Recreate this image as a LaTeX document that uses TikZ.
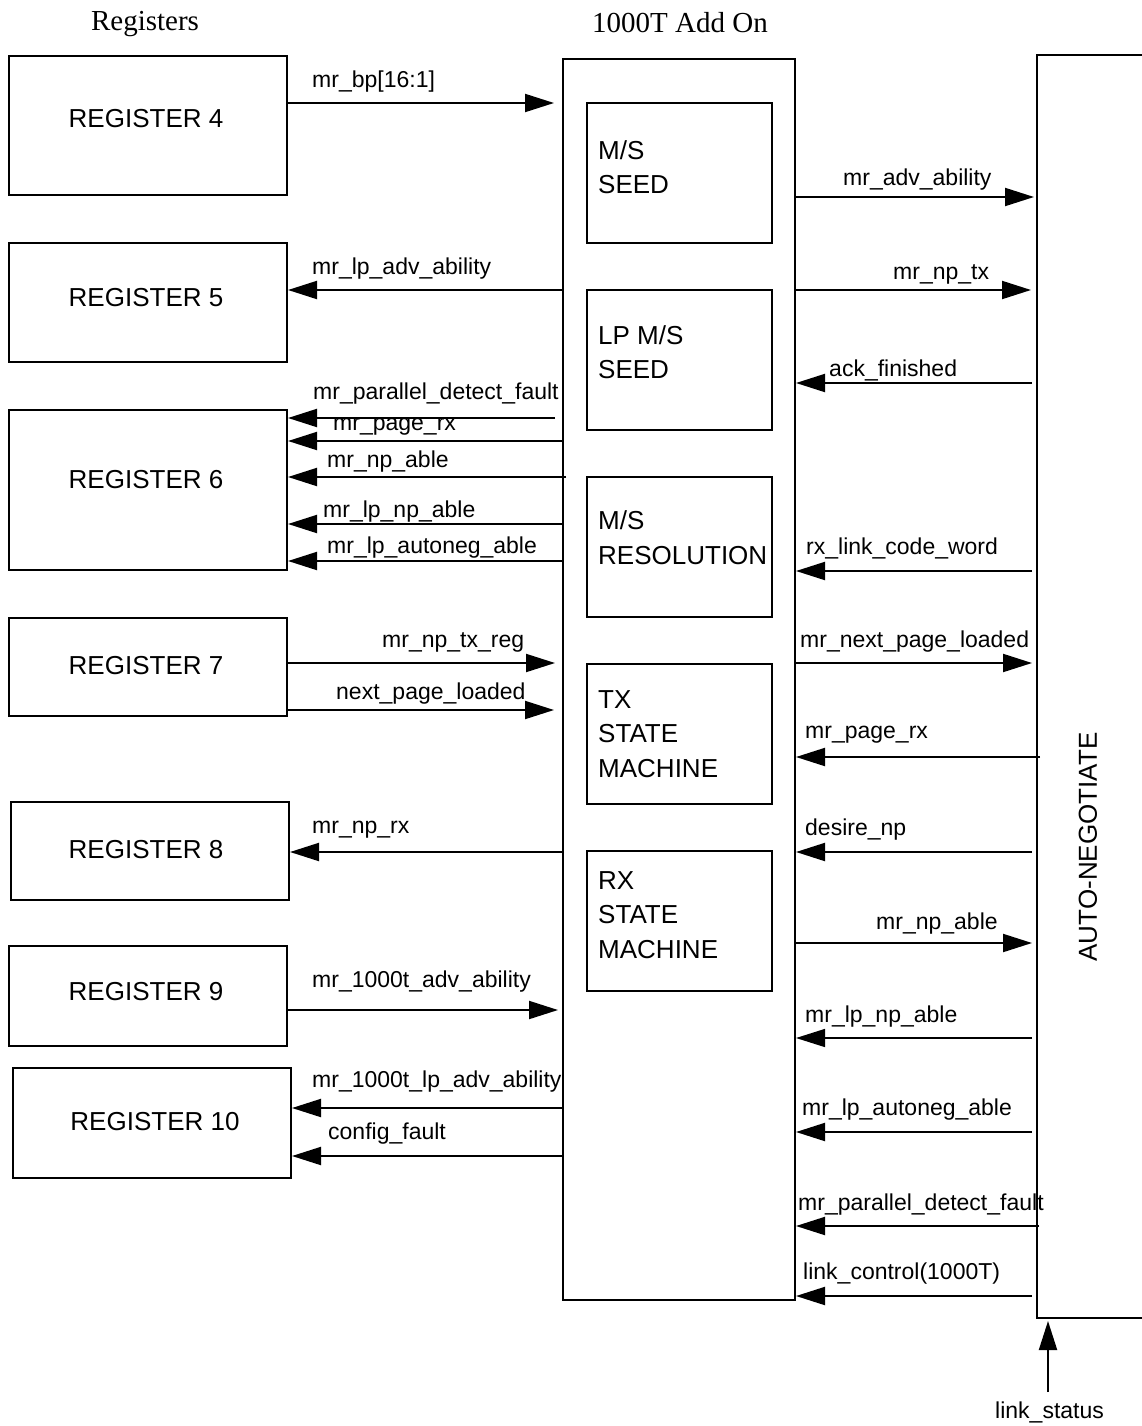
\documentclass[tikz,border=0pt]{standalone}
\usepackage{fontspec}
\setmainfont{Liberation Sans}
\newfontfamily\titlefont{Liberation Serif}
\usetikzlibrary{arrows.meta}
\begin{document}
\begin{tikzpicture}[x=1pt,y=-1pt,
  box/.style={draw,line width=2pt,minimum width=278pt,inner sep=0pt},
  rtext/.style={inner sep=0pt,font=\fontsize{26}{30}\selectfont},
  inner/.style={draw,line width=2pt,minimum width=185pt,minimum height=140pt,inner sep=0pt},
  intext/.style={anchor=west,align=left,inner sep=0pt,font=\fontsize{26}{34.5}\selectfont},
  sig/.style={line width=2pt,-{Triangle[length=29pt,width=18pt]}},
  lbl/.style={anchor=west,inner sep=0pt,yshift=-2pt,font=\fontsize{23}{26}\selectfont},
  ttl/.style={inner sep=0pt,font=\titlefont\fontsize{29}{32}\selectfont}]
\useasboundingbox (0,0) rectangle (1141,1426);
% titles
\node[ttl] (tregs) at (145,24) {Registers};
\node[ttl] (tadd) at (680,23) {1000T Add On};
% registers
\node[box,minimum height=139pt] (r4) at (148,125.5) {};
\node[rtext] (r4t) at (146,119) {REGISTER 4};
\node[box,minimum height=119pt] (r5) at (148,302.5) {};
\node[rtext] (r5t) at (146,298) {REGISTER 5};
\node[box,minimum height=160pt] (r6) at (148,490) {};
\node[rtext] (r6t) at (146,480) {REGISTER 6};
\node[box,minimum height=98pt] (r7) at (148,667) {};
\node[rtext] (r7t) at (146,666) {REGISTER 7};
\node[box,minimum height=98pt] (r8) at (150,851) {};
\node[rtext] (r8t) at (146,850) {REGISTER 8};
\node[box,minimum height=100pt] (r9) at (148,996) {};
\node[rtext] (r9t) at (146,992) {REGISTER 9};
\node[box,minimum height=110pt] (r10) at (152,1123) {};
\node[rtext] (r10t) at (155,1122) {REGISTER 10};
% middle block
\node[draw,line width=2pt,minimum width=232pt,minimum height=1241pt,inner sep=0pt] (mid) at (679,679.5) {};
\node[inner] (ms) at (679.5,173) {};
\node[inner] (lp) at (679.5,360) {};
\node[inner] (res) at (679.5,547) {};
\node[inner] (tx) at (679.5,734) {};
\node[inner] (rx) at (679.5,921) {};
\node[intext] (mst) at (598,167) {M/S\\SEED};
\node[intext] (lpt) at (598,352) {LP M/S\\SEED};
\node[intext] (rest) at (598,537.5) {M/S\\RESOLUTION};
\node[intext] (txt) at (598,734) {TX\\STATE\\MACHINE};
\node[intext] (rxt) at (598,915) {RX\\STATE\\MACHINE};
% auto-negotiate
\node[draw,line width=2pt,minimum width=120pt,minimum height=1263pt,inner sep=0pt] (an) at (1097,686.5) {};
\node[rotate=90,inner sep=0pt,font=\fontsize{26}{30}\selectfont] (ant) at (1088,847) {AUTO-NEGOTIATE};
\coordinate (ls) at (1048,1392);
% left side connectors
\draw[sig,shorten >=8pt] (r4.east |- 0,103) -- (mid.west |- 0,103);
\node[lbl] (l1) at (312,80) {mr\_bp[16:1]};
\draw[sig] (mid.west |- 0,290) -- (r5.east |- 0,290);
\node[lbl] (l2) at (312,267) {mr\_lp\_adv\_ability};
\draw[sig,shorten <=7pt] (mid.west |- 0,418) -- (r6.east |- 0,418);
\node[lbl] (l3) at (313,392) {mr\_parallel\_detect\_fault};
\draw[sig] (mid.west |- 0,441) -- (r6.east |- 0,441);
\node[lbl] (l4) at (333,425) {mr\_page\_rx};
\draw[sig,shorten <=-4pt] (mid.west |- 0,477) -- (r6.east |- 0,477);
\node[lbl] (l5) at (327,460) {mr\_np\_able};
\draw[sig] (mid.west |- 0,524) -- (r6.east |- 0,524);
\node[lbl] (l6) at (323,510) {mr\_lp\_np\_able};
\draw[sig] (mid.west |- 0,561) -- (r6.east |- 0,561);
\node[lbl] (l7) at (327,546) {mr\_lp\_autoneg\_able};
\draw[sig,shorten >=7pt] (r7.east |- 0,663) -- (mid.west |- 0,663);
\node[lbl] (l8) at (382,640) {mr\_np\_tx\_reg};
\draw[sig,shorten >=8pt] (r7.east |- 0,710) -- (mid.west |- 0,710);
\node[lbl] (l9) at (336,692) {next\_page\_loaded};
\draw[sig,shorten <=-2pt] (mid.west |- 0,852) -- (r8.east |- 0,852);
\node[lbl] (l10) at (312,828) {mr\_np\_rx};
\draw[sig,shorten >=4pt] (r9.east |- 0,1010) -- (mid.west |- 0,1010);
\node[lbl] (l11) at (312,980) {mr\_1000t\_adv\_ability};
\draw[sig] (mid.west |- 0,1108) -- (r10.east |- 0,1108);
\node[lbl] (l12) at (312,1080) {mr\_1000t\_lp\_adv\_ability};
\draw[sig] (mid.west |- 0,1156) -- (r10.east |- 0,1156);
\node[lbl] (l13) at (328,1132) {config\_fault};
% right side connectors
\draw[sig,shorten >=2pt] (mid.east |- 0,197) -- (an.west |- 0,197);
\node[lbl] (m1) at (843,178) {mr\_adv\_ability};
\draw[sig,shorten >=5pt] (mid.east |- 0,290) -- (an.west |- 0,290);
\node[lbl] (m2) at (893,272) {mr\_np\_tx};
\draw[sig,shorten <=4pt] (an.west |- 0,383) -- (mid.east |- 0,383);
\node[lbl] (m3) at (829,368) {ack\_finished};
\draw[sig,shorten <=4pt] (an.west |- 0,571) -- (mid.east |- 0,571);
\node[lbl] (m4) at (806,546) {rx\_link\_code\_word};
\draw[sig,shorten >=4pt] (mid.east |- 0,663) -- (an.west |- 0,663);
\node[lbl] (m5) at (800,640) {mr\_next\_page\_loaded};
\draw[sig,shorten <=-4pt] (an.west |- 0,757) -- (mid.east |- 0,757);
\node[lbl] (m6) at (805,733) {mr\_page\_rx};
\draw[sig,shorten <=4pt] (an.west |- 0,852) -- (mid.east |- 0,852);
\node[lbl] (m7) at (805,828) {desire\_np};
\draw[sig,shorten >=4pt] (mid.east |- 0,943) -- (an.west |- 0,943);
\node[lbl] (m8) at (876,922) {mr\_np\_able};
\draw[sig,shorten <=4pt,line width=1.4pt] (an.west |- 0,1038) -- (mid.east |- 0,1038);
\node[lbl] (m9) at (805,1015) {mr\_lp\_np\_able};
\draw[sig,shorten <=4pt] (an.west |- 0,1132) -- (mid.east |- 0,1132);
\node[lbl] (m10) at (802,1108) {mr\_lp\_autoneg\_able};
\draw[sig,shorten <=-3pt] (an.west |- 0,1226) -- (mid.east |- 0,1226);
\node[lbl] (m11) at (798,1203) {mr\_parallel\_detect\_fault};
\draw[sig,shorten <=4pt] (an.west |- 0,1296) -- (mid.east |- 0,1296);
\node[lbl] (m12) at (803,1272) {link\_control(1000T)};
\draw[sig,shorten >=2pt] (ls) -- (ls |- an.south);
\node[lbl] (m13) at (995,1410) {link\_status};
\end{tikzpicture}
\end{document}
